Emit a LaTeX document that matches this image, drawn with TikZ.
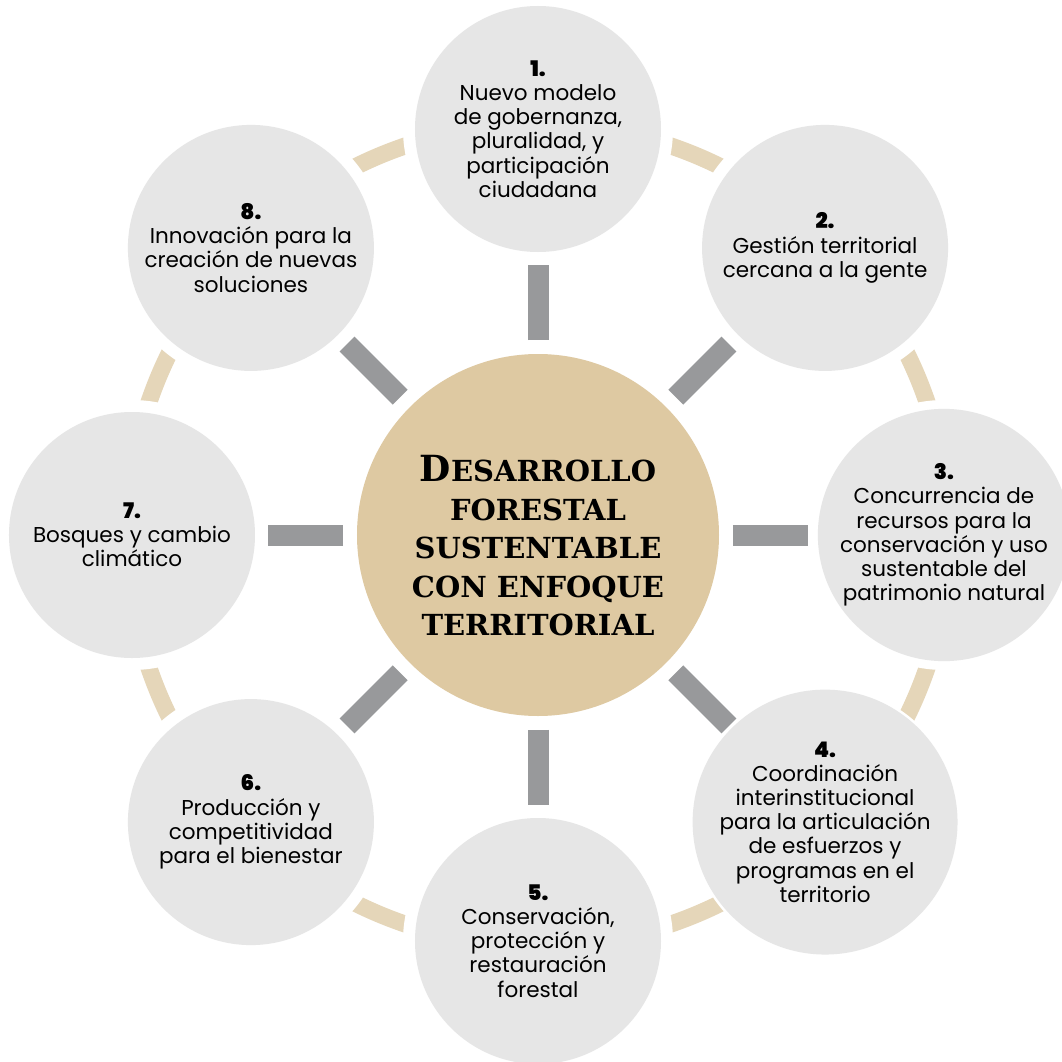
\documentclass[tikz,border=0pt]{standalone}
\usepackage{fontspec}
\usepackage{tikz}
\usetikzlibrary{calc}
\newfontfamily\labelfont{Poppins}
\newfontfamily\numfont{Poppins}[UprightFont={* Black}]
\newfontfamily\titlefont{DejaVu Serif}
\definecolor{circlegray}{HTML}{E6E6E6}
\definecolor{centertan}{HTML}{DEC9A2}
\definecolor{ringtan}{HTML}{E5D6B9}
\definecolor{bargray}{HTML}{98999B}
\tikzset{
	topic/.style={circle, fill=circlegray, minimum size=246pt, inner sep=0pt, align=center, font=\labelfont\fontsize{21.5}{24.2}\selectfont},
	hub/.style={circle, fill=centertan, minimum size=362pt, inner sep=0pt},
	title/.style={align=center, inner sep=0pt, font=\titlefont\bfseries\fontsize{29}{38.5}\selectfont},
	spoke/.style={line width=21pt, color=bargray},
	ring/.style={line width=17pt, color=ringtan},
	gap/.style={fill=white}
}
\newcommand{\num}[1]{{\numfont #1}}

\begin{document}
\begin{tikzpicture}[x=1pt, y=1pt]
			%%%%% START %%%%%
			
			\useasboundingbox (-538, -526) rectangle (524, 535);
			
			\draw[ring] (0, 0) circle (411);
			
			\fill[gap] (90:406) circle (135);
			\fill[gap] (45:406) circle (135);
			\fill[gap] (0:406) circle (135);
			\fill[gap] (-45:406) circle (135);
			\fill[gap] (-90:406) circle (135);
			\fill[gap] (-135:406) circle (135);
			\fill[gap] (180:406) circle (135);
			\fill[gap] (135:406) circle (135);
			
			\node[hub] (hub) at (0, 0) {};
			\node[title] (title) at (0, -11) {{\fontsize{36}{38.5}\selectfont D}ESARROLLO\\FORESTAL\\SUSTENTABLE\\CON ENFOQUE\\TERRITORIAL};
			
			\node[topic] (t1) at (90:406) {\num{1.}\\Nuevo modelo\\de gobernanza,\\pluralidad, y\\participación\\ciudadana};
			\node[topic] (t2) at (45:406) {\num{2.}\\Gestión territorial\\cercana a la gente};
			\node[topic] (t3) at (0:406) {\num{3.}\\Concurrencia de\\recursos para la\\conservación y uso\\sustentable del\\patrimonio natural};
			\node[topic] (t4) at (-45:406) {\num{4.}\\Coordinación\\interinstitucional\\para la articulación\\de esfuerzos y\\programas en el\\territorio};
			\node[topic] (t5) at (-90:406) {\num{5.}\\Conservación,\\protección y\\restauración\\forestal};
			\node[topic] (t6) at (-135:406) {\num{6.}\\Producción y\\competitividad\\para el bienestar};
			\node[topic] (t7) at (180:406) {\num{7.}\\Bosques y cambio\\climático};
			\node[topic] (t8) at (135:406) {\num{8.}\\Innovación para la\\creación de nuevas\\soluciones};
			
			\draw[spoke] ($(hub.center)!0.48!(t1.center)$) -- ($(hub.center)!0.665!(t1.center)$);
			\draw[spoke] ($(hub.center)!0.48!(t2.center)$) -- ($(hub.center)!0.665!(t2.center)$);
			\draw[spoke] ($(hub.center)!0.48!(t3.center)$) -- ($(hub.center)!0.665!(t3.center)$);
			\draw[spoke] ($(hub.center)!0.48!(t4.center)$) -- ($(hub.center)!0.665!(t4.center)$);
			\draw[spoke] ($(hub.center)!0.48!(t5.center)$) -- ($(hub.center)!0.665!(t5.center)$);
			\draw[spoke] ($(hub.center)!0.48!(t6.center)$) -- ($(hub.center)!0.665!(t6.center)$);
			\draw[spoke] ($(hub.center)!0.48!(t7.center)$) -- ($(hub.center)!0.665!(t7.center)$);
			\draw[spoke] ($(hub.center)!0.48!(t8.center)$) -- ($(hub.center)!0.665!(t8.center)$);
			
			%%%%% END %%%%%
\end{tikzpicture}
\end{document}
